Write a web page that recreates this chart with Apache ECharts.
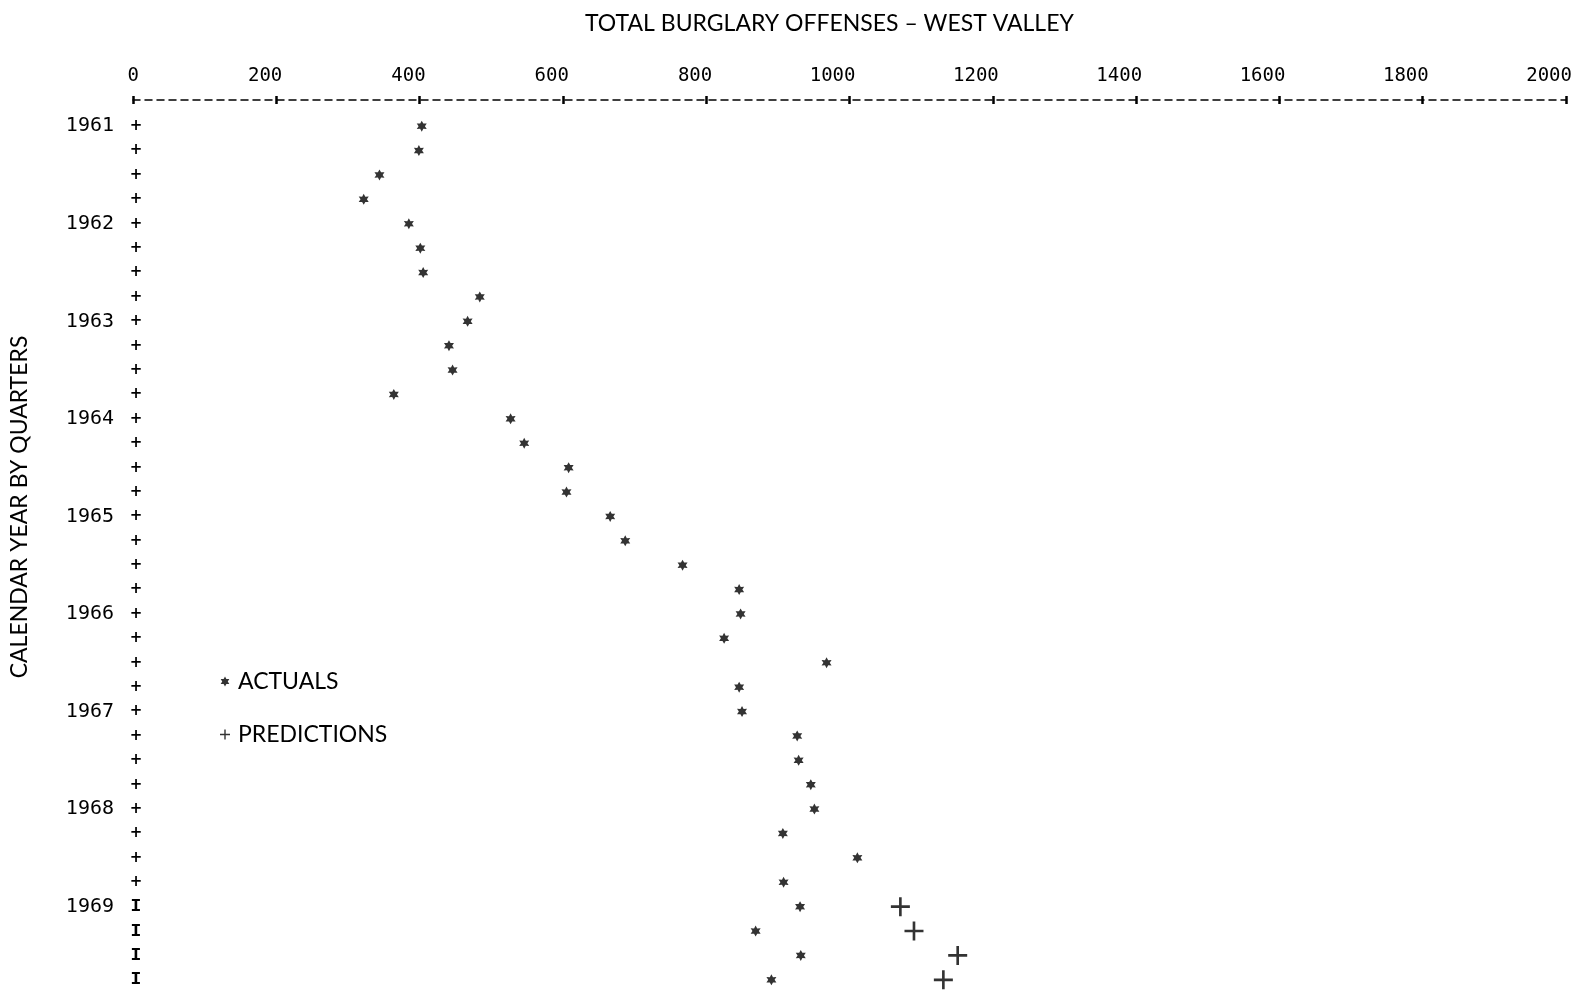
<!DOCTYPE html>
<html>
<head>
<meta charset="utf-8">
<script src="https://cdn.jsdelivr.net/npm/echarts@6/dist/echarts.min.js"></script>
<style>
  html, body { margin: 0; padding: 0; background: #ffffff; }
  #chart { width: 1585px; height: 992px; }
</style>
</head>
<body>
<div id="chart"></div>
<script>
// ---- Data ----
const titleText = 'TOTAL BURGLARY OFFENSES – WEST VALLEY';
const yAxisTitle = 'CALENDAR YEAR BY QUARTERS';

// one row per calendar quarter, 1961 Q1 ... 1969 Q4 (year shown on Q1)
const quarterLabels = [
  '1961', '', '', '',
  '1962', '', '', '',
  '1963', '', '', '',
  '1964', '', '', '',
  '1965', '', '', '',
  '1966', '', '', '',
  '1967', '', '', '',
  '1968', '', '', '',
  '1969', '', '', ''
];

// actual burglary offenses per quarter
const actuals = [
  403, 399, 344, 322,
  385, 401, 405, 484,
  467, 441, 446, 364,
  527, 546, 608, 605,
  666, 687, 767, 846,
  848, 825, 968, 846,
  850, 927, 929, 946,
  951, 907, 1011, 908,
  931, 869, 932, 891
];

// predictions for the 1969 quarters
const predictionQuarters = [32, 33, 34, 35];
const predictions = [1071, 1090, 1151, 1131];

// top axis ticks
const xMin = 0, xMax = 2000, xStep = 200;

// ---- Symbols ----
const starPath = 'path://M10 0 L12.75 5.24 L18.66 5 L15.5 10 L18.66 15 L12.75 14.76 L10 20 L7.25 14.76 L1.34 15 L4.5 10 L1.34 5 L7.25 5.24 Z';
const plusPath = 'path://M7.75 0H10.25V7.75H18V10.25H10.25V18H7.75V10.25H0V7.75H7.75Z';
const thinPlusPath = 'path://M4.3 0H5.7V4.3H10V5.7H5.7V10H4.3V5.7H0V4.3H4.3Z';

const ink = '#000000';
const monoFont = '"DejaVu Sans Mono", "Liberation Mono", monospace';
const sansFont = 'Lato, "Open Sans", sans-serif';

const chart = echarts.init(document.getElementById('chart'), null, { renderer: 'canvas' });

const baseX = {
  type: 'value',
  position: 'top',
  min: xMin,
  max: xMax,
  interval: xStep,
  offset: 14,
  splitLine: { show: false }
};

chart.setOption({
  backgroundColor: '#ffffff',
  animation: false,
  title: {
    text: titleText,
    left: 585,
    top: 10,
    padding: 0,
    textStyle: { fontFamily: sansFont, fontSize: 23, fontWeight: 'normal', color: ink, lineHeight: 28 }
  },
  legend: {
    orient: 'vertical',
    left: 215,
    top: 665,
    itemGap: 30,
    itemWidth: 10,
    itemHeight: 10,
    selectedMode: false,
    textStyle: { fontFamily: sansFont, fontSize: 23, color: ink, padding: [0, 0, 0, 3] },
    data: [
      { name: 'ACTUALS', icon: starPath },
      { name: 'PREDICTIONS', icon: thinPlusPath }
    ]
  },
  grid: { left: 132, top: 114, width: 1434, height: 882, containLabel: false },
  xAxis: [
    Object.assign({}, baseX, {
      axisLine: { show: true, lineStyle: { color: ink, width: 1.5, type: [7, 5] } },
      axisTick: { show: true, inside: false, length: 4, lineStyle: { color: ink, width: 2.5 } },
      axisLabel: {
        show: true,
        margin: 14,
        align: 'right',
        padding: [0, -6, 0, 0],
        fontFamily: monoFont,
        fontSize: 19,
        lineHeight: 19,
        color: ink,
        formatter: function (v) { return String(v); }
      }
    }),
    Object.assign({}, baseX, {
      axisLine: { show: false },
      axisTick: { show: true, inside: true, length: 4, lineStyle: { color: ink, width: 2.5 } },
      axisLabel: { show: false }
    })
  ],
  yAxis: {
    type: 'category',
    inverse: true,
    data: quarterLabels,
    boundaryGap: true,
    axisLine: { show: false },
    axisTick: { show: false },
    splitLine: { show: false },
    name: yAxisTitle,
    nameLocation: 'middle',
    nameRotate: 90,
    nameGap: 102,
    nameTextStyle: { fontFamily: sansFont, fontSize: 23, color: ink, padding: [0, 0, 0, 92] },
    axisLabel: {
      show: true,
      interval: 0,
      margin: -9,
      formatter: function (value, index) {
        const mark = index >= 32 ? '{i|I}' : '{p|+}';
        return value ? '{y|' + value + '}' + mark : mark;
      },
      rich: {
        y: { fontFamily: monoFont, fontSize: 20, color: ink, padding: [0, 16, 0, 0] },
        p: { fontFamily: '"DejaVu Sans", sans-serif', fontWeight: 'bold', fontSize: 15, color: ink, width: 12, align: 'center' },
        i: { fontFamily: '"Liberation Mono", monospace', fontWeight: 'bold', fontSize: 18, color: ink, width: 12, align: 'center' }
      }
    }
  },
  series: [
    {
      name: 'ACTUALS',
      type: 'scatter',
      symbol: starPath,
      symbolSize: [10, 11],
      itemStyle: { color: ink },
      data: actuals.map(function (v, i) { return [v, i]; })
    },
    {
      name: 'PREDICTIONS',
      type: 'scatter',
      symbol: plusPath,
      symbolSize: 19,
      itemStyle: { color: ink },
      data: predictions.map(function (v, i) { return [v, predictionQuarters[i]]; })
    }
  ]
});
</script>
</body>
</html>
